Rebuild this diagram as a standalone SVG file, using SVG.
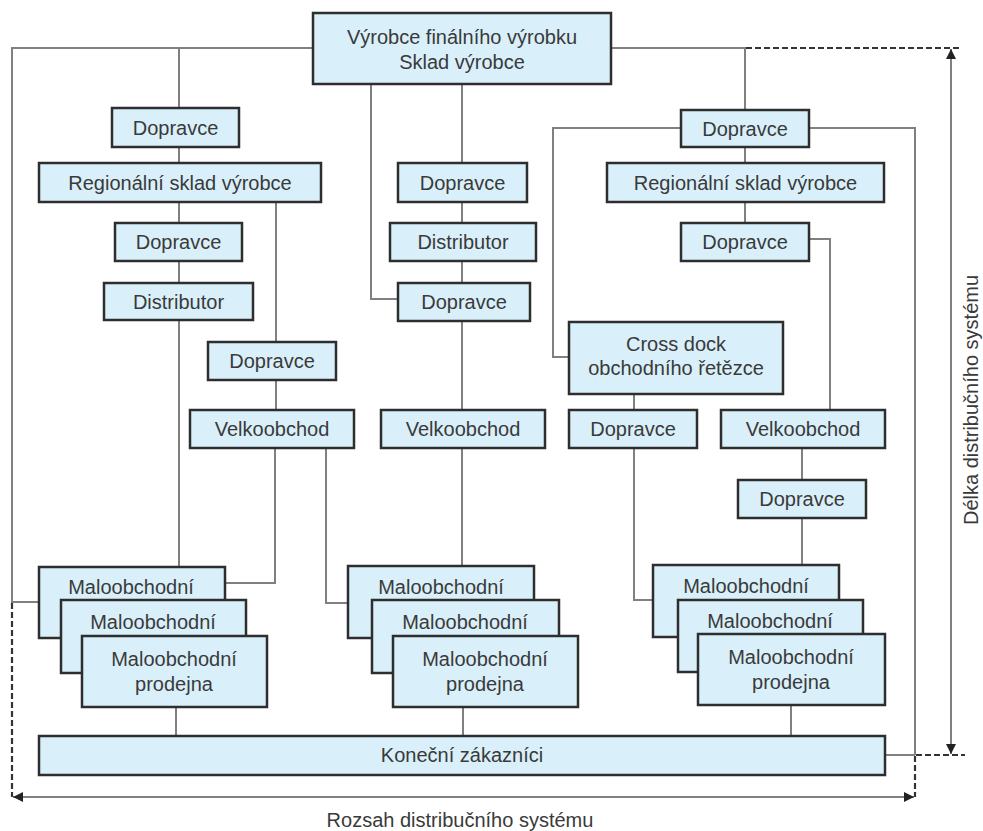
<svg xmlns="http://www.w3.org/2000/svg" width="983" height="831" viewBox="0 0 983 831">
<style>
.box{fill:#d9f0fa;stroke:#2e2e2e;stroke-width:2.5}
.t{font-family:"Liberation Sans",Arial,sans-serif;font-size:20px;fill:#3a3a3a;text-anchor:middle}
.c{fill:none;stroke:#808080;stroke-width:2}
.d{fill:none;stroke:#333;stroke-width:2.2;stroke-dasharray:6 3}
.a{fill:none;stroke:#808080;stroke-width:2}
</style>
<defs>
<marker id="ah" viewBox="0 0 10 10" refX="10" refY="5" markerWidth="12" markerHeight="10" markerUnits="userSpaceOnUse" orient="auto-start-reverse">
<path d="M0,0 L10,5 L0,10 z" fill="#222"/>
</marker>
</defs>
<rect width="983" height="831" fill="#fff"/>
<g id="connectors">
<path class="c" d="M313,48 H12 V602 H39"/>
<path class="c" d="M179,48 V108 M179,147 V163 M179,202 V223 M179,261 V283 M179,320 V567"/>
<path class="c" d="M276,202 V342 M276,380 V410"/>
<path class="c" d="M275,448 V583 H225"/>
<path class="c" d="M326,448 V603 H348"/>
<path class="c" d="M371,84 V299 H398"/>
<path class="c" d="M462,84 V163 M462,202 V223 M462,261 V283 M462,321 V410 M462,448 V566"/>
<path class="c" d="M611,48 H745 V110 M745,147 V163 M745,202 V223"/>
<path class="c" d="M681,128 H553 V357 H569"/>
<path class="c" d="M809,128 H915 V755 M885,755 H915"/>
<path class="c" d="M809,239 H830 V410"/>
<path class="c" d="M634,394 V410 M634,448 V600 H653"/>
<path class="c" d="M802,448 V480 M802,518 V565"/>
<path class="c" d="M176,707 V736 M463,707 V736 M791,705 V736"/>
<path class="d" d="M746,48 H962"/>
<path class="d" d="M916,755 H965"/>
<path class="d" d="M12,603 V797"/>
<path class="d" d="M915,756 V797"/>
<path class="a" d="M13,797 H914" marker-start="url(#ah)" marker-end="url(#ah)"/>
<path class="a" d="M951,49 V754" marker-start="url(#ah)" marker-end="url(#ah)"/>
</g>
<g id="n-top"><rect class="box" x="313" y="13" width="298" height="71"/><text class="t" x="462" y="44">Výrobce finálního výrobku</text><text class="t" x="462" y="69">Sklad výrobce</text></g>
<g id="n-l-dop1"><rect class="box" x="112" y="108" width="127" height="39"/><text class="t" x="175.5" y="134.5">Dopravce</text></g>
<g id="n-l-reg"><rect class="box" x="39" y="163" width="282" height="39"/><text class="t" x="180" y="189.5">Regionální sklad výrobce</text></g>
<g id="n-l-dop2"><rect class="box" x="115" y="223" width="127" height="38"/><text class="t" x="178.5" y="249">Dopravce</text></g>
<g id="n-l-dist"><rect class="box" x="104" y="283" width="149" height="37"/><text class="t" x="178.5" y="308.5">Distributor</text></g>
<g id="n-l-dop3"><rect class="box" x="208" y="342" width="128" height="38"/><text class="t" x="272" y="368">Dopravce</text></g>
<g id="n-l-velk"><rect class="box" x="190" y="410" width="164" height="38"/><text class="t" x="272" y="436">Velkoobchod</text></g>
<g id="n-m-dop1"><rect class="box" x="398" y="163" width="129" height="39"/><text class="t" x="462.5" y="189.5">Dopravce</text></g>
<g id="n-m-dist"><rect class="box" x="390" y="223" width="146" height="38"/><text class="t" x="463" y="249">Distributor</text></g>
<g id="n-m-dop2"><rect class="box" x="398" y="283" width="132" height="38"/><text class="t" x="464" y="309">Dopravce</text></g>
<g id="n-m-velk"><rect class="box" x="381" y="410" width="164" height="38"/><text class="t" x="463" y="436">Velkoobchod</text></g>
<g id="n-r-dop1"><rect class="box" x="681" y="110" width="128" height="37"/><text class="t" x="745" y="135.5">Dopravce</text></g>
<g id="n-r-reg"><rect class="box" x="607" y="163" width="277" height="39"/><text class="t" x="745.5" y="189.5">Regionální sklad výrobce</text></g>
<g id="n-r-dop2"><rect class="box" x="681" y="223" width="128" height="38"/><text class="t" x="745" y="249">Dopravce</text></g>
<g id="n-r-cross"><rect class="box" x="569" y="322" width="214" height="72"/><text class="t" x="676" y="351">Cross dock</text><text class="t" x="676" y="375">obchodního řetězce</text></g>
<g id="n-r-dop3"><rect class="box" x="569" y="410" width="128" height="38"/><text class="t" x="633" y="436">Dopravce</text></g>
<g id="n-r-velk"><rect class="box" x="721" y="410" width="164" height="38"/><text class="t" x="803" y="436">Velkoobchod</text></g>
<g id="n-r-dop4"><rect class="box" x="738" y="480" width="128" height="38"/><text class="t" x="802" y="506">Dopravce</text></g>
<g id="n-l-mal1"><rect class="box" x="39" y="567" width="186" height="71"/><text class="t" x="131" y="594">Maloobchodní</text></g>
<g id="n-l-mal2"><rect class="box" x="61" y="600" width="185" height="73"/><text class="t" x="153" y="629">Maloobchodní</text></g>
<g id="n-l-mal3"><rect class="box" x="82" y="636" width="185" height="71"/><text class="t" x="174" y="666">Maloobchodní</text><text class="t" x="174" y="691">prodejna</text></g>
<g id="n-m-mal1"><rect class="box" x="348" y="566" width="186" height="72"/><text class="t" x="441" y="594">Maloobchodní</text></g>
<g id="n-m-mal2"><rect class="box" x="372" y="600" width="187" height="73"/><text class="t" x="465" y="629">Maloobchodní</text></g>
<g id="n-m-mal3"><rect class="box" x="393" y="636" width="185" height="71"/><text class="t" x="485" y="666">Maloobchodní</text><text class="t" x="485" y="691">prodejna</text></g>
<g id="n-r-mal1"><rect class="box" x="653" y="565" width="186" height="72"/><text class="t" x="746" y="593">Maloobchodní</text></g>
<g id="n-r-mal2"><rect class="box" x="678" y="600" width="185" height="72"/><text class="t" x="770" y="628">Maloobchodní</text></g>
<g id="n-r-mal3"><rect class="box" x="698" y="634" width="187" height="71"/><text class="t" x="791" y="664">Maloobchodní</text><text class="t" x="791" y="689">prodejna</text></g>
<g id="n-kon"><rect class="box" x="39" y="736" width="846" height="39"/><text class="t" x="462" y="762">Koneční zákazníci</text></g>
<g id="labels">
<text class="t" x="460" y="827">Rozsah distribučního systému</text>
<text class="t" transform="translate(978,400) rotate(-90)">Délka distribučního systému</text>
</g>
</svg>
